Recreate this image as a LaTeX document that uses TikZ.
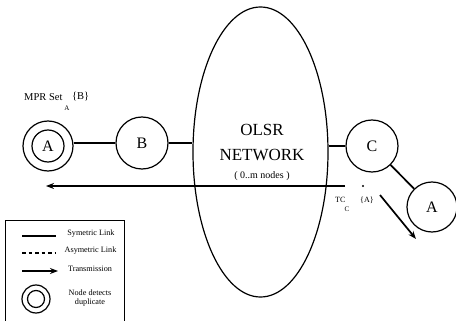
\documentclass[tikz,border=0pt]{standalone}
\usepackage{fontspec}
\setmainfont{Liberation Serif}
\usetikzlibrary{shapes.geometric,arrows.meta}
\tikzset{
  nodecirc/.style={circle,draw,line width=1.2pt,minimum size=51pt,inner sep=0pt,font=\fontsize{16}{16}\selectfont},
  link/.style={line width=1.7pt},
  trans/.style={line width=1.7pt,-{Stealth[length=8pt,width=6pt]}},
  legtext/.style={font=\fontsize{8.2}{9.5}\selectfont,align=center,inner sep=0pt},
  lbl/.style={font=\fontsize{10.5}{11}\selectfont,inner sep=0pt},
  sublbl/.style={font=\fontsize{7}{7}\selectfont,inner sep=0pt},
  tclbl/.style={font=\fontsize{8}{8}\selectfont,inner sep=0pt}
}
\begin{document}
\begin{tikzpicture}[x=1pt,y=-1pt]
\useasboundingbox (0,0) rectangle (456,321);
% network
\node[ellipse,draw,line width=1.2pt,minimum width=135pt,minimum height=290pt,inner sep=0pt] (net) at (260.5,152) {};
\node[font=\fontsize{17}{17}\selectfont] (olsr) at (262,130) {OLSR};
\node[font=\fontsize{17}{17}\selectfont] (netw) at (262,155) {NETWORK};
\node[font=\fontsize{10}{10}\selectfont] (cnt) at (262,176) {( 0..m nodes )};
% nodes
\node[nodecirc,minimum size=50pt] (A1) at (48,146) {};
\node[circle,draw,line width=1.2pt,minimum size=32pt,inner sep=0pt,font=\fontsize{16}{16}\selectfont] (A1i) at (A1.center) {A};
\node[nodecirc,minimum size=52pt] (B) at (142,143) {B};
\node[nodecirc,minimum size=52pt] (C) at (372,146) {C};
\node[nodecirc,minimum size=50pt] (A2) at (432,207) {A};
% links
\draw[link] (A1.east |- B) -- (B.west);
\draw[link] (B.east) -- (B -| net.west);
\draw[link] (net.east |- C) -- (C.west);
\draw[link] (C) -- (A2);
% transmissions
\coordinate (ts) at (345,186);
\coordinate (te) at (46,186);
\draw[trans] (ts) -- (te);
\coordinate (ds) at (380,195);
\coordinate (de) at (416,239);
\draw[trans] (ds) -- (de);
\fill (363,186) circle (1.1pt);
% labels
\node[lbl,anchor=base west] (mpr) at (24,101) {MPR Set};
\node[sublbl] (mprs) at (67,108) {A};
\node[lbl,anchor=base west] (mprb) at (72,100) {\{B\}};
\node[tclbl,anchor=base west] (tc) at (335,203) {TC};
\node[sublbl] (tcs) at (347,209) {C};
\node[tclbl,anchor=base west] (tca) at (360,202) {\{A\}};
% legend
\draw[line width=1pt] (124,330) -- (124,220) -- (5,220) -- (5,330);
\coordinate (l1a) at (22,236); \coordinate (l1b) at (56,236);
\draw[link] (l1a) -- (l1b);
\node[legtext] (t1) at (91,234) {Symetric Link};
\coordinate (l2a) at (22,253); \coordinate (l2b) at (56,253);
\draw[link,dash pattern=on 3.5pt off 3pt] (l2a) -- (l2b);
\node[legtext] (t2) at (90.5,251) {Asymetric Link};
\coordinate (l3a) at (22,271); \coordinate (l3b) at (58,271);
\draw[trans] (l3a) -- (l3b);
\node[legtext] (t3) at (90,268.5) {Transmission};
\node[circle,draw,line width=1.2pt,minimum size=28pt,inner sep=0pt] (lc) at (36,299) {};
\node[circle,draw,line width=1.2pt,minimum size=17pt,inner sep=0pt] (lci) at (lc.center) {};
\node[legtext] (t4) at (90,298) {Node detects\\duplicate};
\end{tikzpicture}
\end{document}
